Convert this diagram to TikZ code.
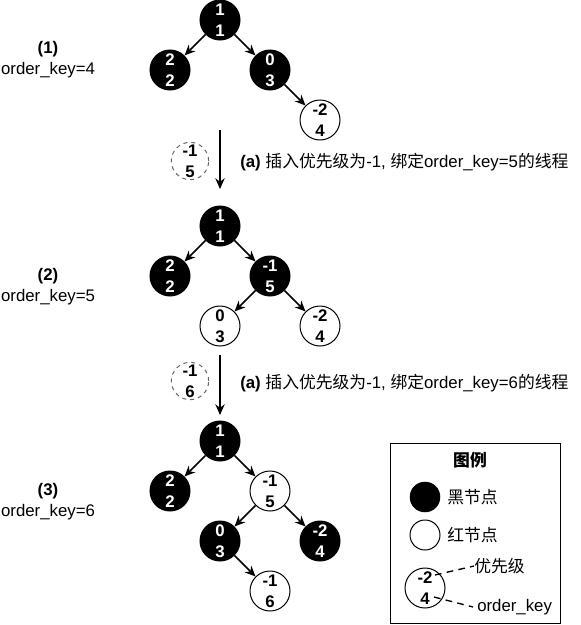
\documentclass[tikz,border=0pt]{standalone}
\usepackage{fontspec}
\setmainfont{Liberation Sans}
\newfontfamily\cjk{Noto Sans CJK SC}
\usetikzlibrary{arrows.meta}
\begin{document}
\begin{tikzpicture}[x=0.75pt,y=-0.75pt,
  every node/.style={font=\fontsize{12.6}{15.75}\selectfont},
  bnode/.style={circle,fill=black,draw=black,line width=0.75pt,minimum size=30pt,inner sep=0pt,text=white,align=center,font=\bfseries\fontsize{12.6}{15.75}\selectfont},
  rnode/.style={circle,fill=white,draw=black,line width=0.75pt,minimum size=30pt,inner sep=0pt,text=black,align=center,font=\bfseries\fontsize{12.6}{15.75}\selectfont},
  newnode/.style={circle,draw=black!60,dashed,line width=0.75pt,minimum size=28pt,inner sep=0pt,align=center,font=\bfseries\fontsize{12.6}{15.75}\selectfont},
  edge/.style={line width=1.1pt,-{Stealth[length=8pt,width=7pt]}},
  caption/.style={anchor=west,inner sep=0pt},
  stage/.style={align=center,inner sep=0pt},
  leg/.style={anchor=west,inner sep=0pt,font=\cjk\fontsize{12.6}{15.75}\selectfont},
  legline/.style={dashed,line width=1pt,dash pattern=on 5pt off 4pt}
]
\useasboundingbox (0,0) rectangle (581,625);

% stage labels
\node[stage] (L1) at (48,60) {\textbf{(1)}\\order\_key=4};
\node[stage] (L2) at (48,287) {\textbf{(2)}\\order\_key=5};
\node[stage] (L3) at (48,502) {\textbf{(3)}\\order\_key=6};

% tree 1
\node[bnode] (a1) at (220,20) {1\\1};
\node[bnode] (a2) at (170,70) {2\\2};
\node[bnode] (a3) at (270,70) {0\\3};
\node[rnode] (a4) at (320,120) {-2\\4};
\draw[edge] (a1) -- (a2);
\draw[edge] (a1) -- (a3);
\draw[edge] (a3) -- (a4);

% step 1
\node[newnode] (d1) at (190,161) {-1\\5};
\coordinate (s1a) at (220,130);
\coordinate (s1b) at (220,189);
\draw[edge] (s1a) -- (s1b);
\node[caption] (t1) at (240,162) {\textbf{(a)} {\cjk 插入优先级为}-1, {\cjk 绑定}order\_key=5{\cjk 的线程}};

% tree 2
\node[bnode] (b1) at (220,226) {1\\1};
\node[bnode] (b2) at (170,276) {2\\2};
\node[bnode] (b3) at (270,276) {-1\\5};
\node[rnode] (b4) at (220,326) {0\\3};
\node[rnode] (b5) at (320,326) {-2\\4};
\draw[edge] (b1) -- (b2);
\draw[edge] (b1) -- (b3);
\draw[edge] (b3) -- (b4);
\draw[edge] (b3) -- (b5);

% step 2
\node[newnode] (d2) at (190,381) {-1\\6};
\coordinate (s2a) at (220,355);
\coordinate (s2b) at (220,415);
\draw[edge] (s2a) -- (s2b);
\node[caption] (t2) at (240,383) {\textbf{(a)} {\cjk 插入优先级为}-1, {\cjk 绑定}order\_key=6{\cjk 的线程}};

% tree 3
\node[bnode] (c1) at (220,441) {1\\1};
\node[bnode] (c2) at (170,491) {2\\2};
\node[rnode] (c3) at (270,491) {-1\\5};
\node[bnode] (c4) at (220,541) {0\\3};
\node[bnode] (c5) at (320,541) {-2\\4};
\node[rnode] (c6) at (270,591) {-1\\6};
\draw[edge] (c1) -- (c2);
\draw[edge] (c1) -- (c3);
\draw[edge] (c3) -- (c4);
\draw[edge] (c3) -- (c5);
\draw[edge] (c4) -- (c6);

% legend
\node[draw=black,line width=0.75pt,minimum width=127.5pt,minimum height=135pt,inner sep=0pt] (box) at (475,533) {};
\node[inner sep=0pt,font=\cjk\bfseries\fontsize{12.6}{15.75}\selectfont] (lt) at (470,460) {图例};
\node[circle,fill=black,draw=black,minimum size=22.5pt,inner sep=0pt] (lb) at (425,497) {};
\node[leg] (lbt) at (447,497) {黑节点};
\node[circle,fill=white,draw=black,line width=0.75pt,minimum size=22.5pt,inner sep=0pt] (lr) at (425,535) {};
\node[leg] (lrt) at (447,535) {红节点};
\node[rnode,minimum size=30pt] (ln) at (425,588) {-2\\4};
\node[leg] (lp) at (474,566) {优先级};
\node[anchor=west,inner sep=0pt] (lo) at (477,607) {order\_key};
\coordinate (lq1) at (435,575);
\coordinate (lq2) at (434,597);
\draw[legline] (lq1) -- (lp.west);
\draw[legline] (lq2) -- ([xshift=-3pt]lo.west);
\end{tikzpicture}
\end{document}
